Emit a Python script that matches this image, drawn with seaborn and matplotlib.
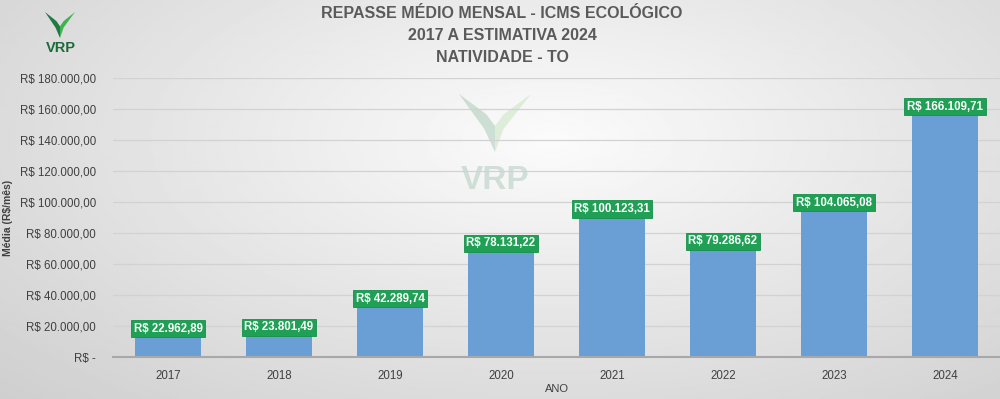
import numpy as np
import pandas as pd
import matplotlib
matplotlib.use("Agg")
import matplotlib.pyplot as plt
import seaborn as sns
from matplotlib.patches import Polygon

years = ["2017", "2018", "2019", "2020", "2021", "2022", "2023", "2024"]
values = [22962.89, 23801.49, 42289.74, 78131.22, 100123.31, 79286.62, 104065.08, 166109.71]
value_labels = ["R$ 22.962,89", "R$ 23.801,49", "R$ 42.289,74", "R$ 78.131,22",
                "R$ 100.123,31", "R$ 79.286,62", "R$ 104.065,08", "R$ 166.109,71"]
y_ticks = [0, 20000, 40000, 60000, 80000, 100000, 120000, 140000, 160000, 180000]
y_tick_labels = ["R$ -", "R$ 20.000,00", "R$ 40.000,00", "R$ 60.000,00", "R$ 80.000,00",
                 "R$ 100.000,00", "R$ 120.000,00", "R$ 140.000,00", "R$ 160.000,00",
                 "R$ 180.000,00"]
title_lines = ["REPASSE MÉDIO MENSAL - ICMS ECOLÓGICO", "2017 A ESTIMATIVA 2024", "NATIVIDADE - TO"]

df = pd.DataFrame({"ano": years, "valor": values})

sns.set_theme(style="white")
plt.rcParams['font.family'] = ['Liberation Sans', 'DejaVu Sans']

W, H = 1000, 399
fig = plt.figure(figsize=(W / 100, H / 100), dpi=100)

# background gradient
bg = fig.add_axes([0, 0, 1, 1], zorder=-10)
yy, xx = np.mgrid[0:1:200j, 0:1:500j]
r = np.sqrt(((xx - 0.55) / 0.75) ** 2 + ((yy - 0.35) / 0.9) ** 2)
img = np.clip(0.985 - 0.17 * r, 0.80, 0.985)
bg.imshow(img, cmap="gray", vmin=0, vmax=1, aspect="auto", extent=[0, 1, 0, 1], origin="upper")
bg.set_axis_off()

def fx(px):
    return px / W

def fy(py):
    return 1 - py / H

def draw_logo(cx, top, w, h, c1, c2, alpha):
    left = [(cx - w / 2, top), (cx - w * 0.12, top + h * 0.35), (cx, top + h * 0.55),
            (cx, top + h), (cx - w * 0.15, top + h * 0.6)]
    right = [(cx + w / 2, top), (cx + w * 0.12, top + h * 0.35), (cx, top + h * 0.55),
             (cx, top + h), (cx + w * 0.12, top + h * 0.6)]
    for pts, c in ((left, c1), (right, c2)):
        poly = Polygon([(fx(x), fy(y)) for x, y in pts], closed=True,
                       transform=fig.transFigure, facecolor=c, edgecolor="none",
                       alpha=alpha, zorder=-5)
        fig.patches.append(poly)

# watermark
draw_logo(495, 94, 72, 58, "#4f9a72", "#8fd07f", 0.25)
fig.text(fx(495), fy(181), "VRP", ha="center", va="center", fontsize=24,
         fontweight="bold", color="#5f9a80", alpha=0.25, zorder=-4)

# top-left logo
draw_logo(60, 12, 30, 26, "#1f7a45", "#3fb34f", 1.0)
fig.text(fx(61), fy(48), "VRP", ha="center", va="center", fontsize=10.5,
         fontweight="bold", color="#1d6b3a")

ax = fig.add_axes([0.1125, 0.105, 0.888, 0.7])
ax.set_facecolor("none")
sns.barplot(data=df, x="ano", y="valor", color="#6a9fd6", width=0.6,
            saturation=1, ax=ax, zorder=3, linewidth=0, edgecolor="none")

ax.set_ylim(0, 180000)
ax.set_xlim(-0.5, len(years) - 0.5)
ax.set_yticks(y_ticks)
ax.set_yticklabels(y_tick_labels, fontsize=8.3, color="#404040")
ax.tick_params(axis="x", labelsize=8.3, colors="#404040", length=0, pad=9)
ax.tick_params(axis="y", length=0, pad=12)
ax.grid(axis="y", color="#d2d2d2", linewidth=0.9, zorder=0)
for s in ["top", "right", "left"]:
    ax.spines[s].set_visible(False)
ax.spines["bottom"].set_color("#a8a8a8")
ax.spines["bottom"].set_linewidth(1.5)
ax.spines["bottom"].set_zorder(4)

ax.set_xlabel("ANO", fontsize=8, color="#404040", labelpad=2)
ax.set_ylabel("Média (R$/mês)", fontsize=7.5, fontweight="bold", color="#404040")
ax.yaxis.set_label_coords(-0.112, 0.5)

for i, (v, lab) in enumerate(zip(values, value_labels)):
    ax.annotate(lab, xy=(i, v), xytext=(0, -5.2), textcoords="offset points",
                ha="center", va="center", fontsize=8.3, fontweight="bold", color="white",
                zorder=6,
                bbox=dict(boxstyle="square,pad=0.22", facecolor="#1fa055", edgecolor="#16904a",
                          linewidth=0.6))

for k, line in enumerate(title_lines):
    fig.text(0.502, fy(14 + 22 * k), line, ha="center", va="center", fontsize=11.5,
             fontweight="bold", color="#5a5a5a")

fig.savefig("out.png", dpi=100)
